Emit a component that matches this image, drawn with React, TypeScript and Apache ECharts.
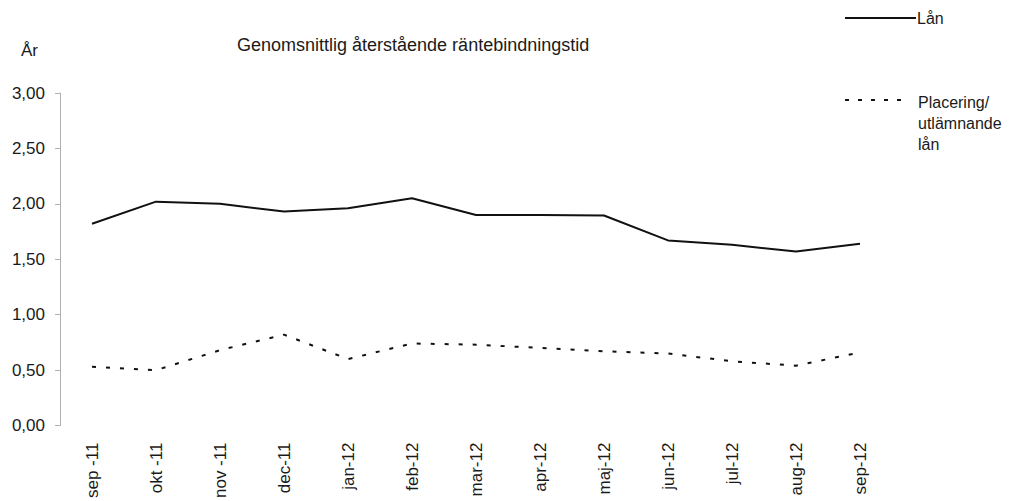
import React, { useEffect, useRef } from "react";
import * as echarts from "echarts";

const categories = [
  "sep -11", "okt -11", "nov -11", "dec-11", "jan-12", "feb-12", "mar-12",
  "apr-12", "maj-12", "jun-12", "jul-12", "aug-12", "sep-12",
];
const lanValues = [1.82, 2.02, 2.0, 1.93, 1.96, 2.05, 1.9, 1.9, 1.895, 1.67, 1.63, 1.57, 1.64];
const placeringValues = [0.53, 0.5, 0.68, 0.82, 0.6, 0.74, 0.73, 0.7, 0.67, 0.65, 0.58, 0.54, 0.66];
const yTicks = [0, 0.5, 1, 1.5, 2, 2.5, 3];

const FONT = "Liberation Sans, Arial, sans-serif";
const TEXT = "#1a1a1a";

export default function App() {
  const ref = useRef<HTMLDivElement>(null);
  useEffect(() => {
    document.body.style.margin = "0";
    const chart = echarts.init(ref.current!, null, { renderer: "svg" });
    chart.setOption({
      animation: false,
      backgroundColor: "#ffffff",
      textStyle: { fontFamily: FONT },
      title: {
        text: "Genomsnittlig återstående räntebindningstid",
        left: 232,
        top: 31,
        textStyle: { fontFamily: FONT, fontSize: 18, fontWeight: "normal", color: TEXT },
      },
      grid: { left: 60, right: 119, top: 93, bottom: 74, containLabel: false },
      xAxis: {
        type: "category",
        data: categories,
        boundaryGap: true,
        axisLine: { show: false },
        axisTick: { show: false },
        axisLabel: {
          rotate: 90,
          margin: 17,
          fontFamily: FONT,
          fontSize: 17,
          color: TEXT,
          interval: 0,
        },
      },
      yAxis: {
        type: "value",
        min: yTicks[0],
        max: yTicks[yTicks.length - 1],
        interval: 0.5,
        axisLine: { show: true, lineStyle: { color: "#b0b0b0", width: 1 } },
        axisTick: { show: true, length: 5, lineStyle: { color: "#b0b0b0" } },
        splitLine: { show: false },
        axisLabel: {
          margin: 15,
          fontFamily: FONT,
          fontSize: 17,
          color: TEXT,
          formatter: (v: number) => v.toFixed(2).replace(".", ","),
        },
      },
      graphic: [
        {
          type: "text",
          left: 21,
          top: 42,
          style: { text: "År", fontFamily: FONT, fontSize: 17, fill: TEXT },
        },
        {
          type: "line",
          shape: { x1: 845, y1: 18, x2: 916, y2: 18 },
          style: { stroke: "#111", lineWidth: 2 },
        },
        {
          type: "text",
          left: 917,
          top: 10,
          style: { text: "Lån", fontFamily: FONT, fontSize: 16, fill: TEXT },
        },
        {
          type: "line",
          shape: { x1: 845, y1: 100, x2: 905, y2: 100 },
          style: { stroke: "#111", lineWidth: 2, lineDash: [4, 9] },
        },
        {
          type: "text",
          left: 918,
          top: 92,
          style: {
            text: "Placering/\nutlämnande\nlån",
            fontFamily: FONT,
            fontSize: 16,
            lineHeight: 21,
            fill: TEXT,
          },
        },
      ],
      series: [
        {
          name: "Lån",
          type: "line",
          data: lanValues,
          symbol: "none",
          lineStyle: { color: "#111", width: 2 },
        },
        {
          name: "Placering/ utlämnande lån",
          type: "line",
          data: placeringValues,
          symbol: "none",
          lineStyle: { color: "#111", width: 2, type: [4, 10] },
        },
      ],
    });
    return () => chart.dispose();
  }, []);
  return <div ref={ref} style={{ width: 1011, height: 501 }} />;
}
